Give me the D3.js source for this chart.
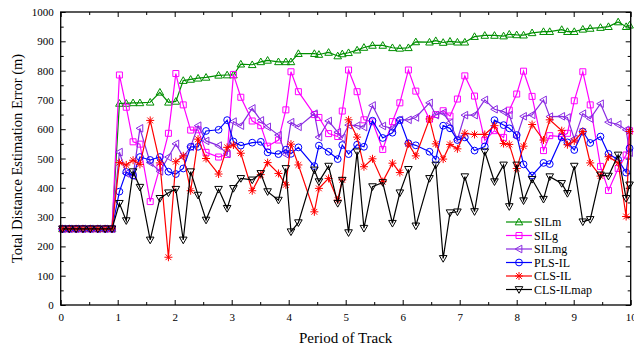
<!DOCTYPE html>
<html>
<head>
<meta charset="utf-8">
<script src="https://cdn.jsdelivr.net/npm/d3@7"></script>
<style>
  html, body { margin: 0; padding: 0; background: #fff; }
  svg { display: block; }
  svg text { font-family: "Liberation Serif", "Times New Roman", serif; fill: #000; }
</style>
</head>
<body>
<svg id="chart" width="634" height="348"></svg>
<script>
// Track period at which each estimate was taken
const period = [0.03,0.15,0.27,0.39,0.52,0.65,0.78,0.9,
  1.03,1.15,1.27,1.39,1.57,1.74,1.89,2.02,2.15,2.28,2.41,2.55,2.77,2.92,3.03,3.16,3.36,3.51,3.63,3.82,3.95,4.04,4.17,4.45,4.53,4.70,4.86,4.94,
  5.05,5.20,5.32,5.47,5.65,5.82,5.95,6.10,6.23,6.47,6.58,6.71,6.83,6.96,7.09,7.26,7.44,7.61,7.77,7.87,8.00,8.12,8.27,8.47,8.58,8.79,8.89,
  9.01,9.16,9.29,9.47,9.61,9.78,9.92,9.98];

const flat = [260,260,260,260,260,260,260,260];

const silm = flat.concat([688,688,690,690,692,726,692,695,766,770,774,777,784,785,785,822,820,830,835,830,830,830,858,858,855,862,850,857,
  861,870,879,886,886,878,876,878,898,897,902,896,900,897,897,916,920,920,918,924,922,921,929,933,933,940,933,
  933,941,944,947,950,966,950,955]);

const silg = flat.concat([785,675,557,549,353,470,586,790,683,597,598,521,505,514,787,709,628,612,542,563,666,796,728,650,640,585,575,662,
  802,728,632,625,531,626,690,802,730,634,650,663,645,703,782,713,562,595,572,665,720,798,712,527,578,575,586,
  697,796,683,473,391,466,512,595]);

const silmg = flat.concat([522,449,440,603,486,456,505,550,505,540,612,560,544,516,626,612,671,630,608,580,514,624,608,653,573,628,590,570,
  614,612,607,681,611,603,632,632,640,690,648,656,622,565,648,648,700,668,660,648,573,644,649,700,643,644,640,
  567,653,636,687,624,616,598,520]);

const plsil = flat.concat([387,454,442,505,495,505,455,447,466,540,540,594,598,631,558,544,554,557,521,515,530,516,538,474,544,523,498,546,
  515,547,540,629,570,588,631,552,545,523,496,612,603,563,572,527,541,631,614,603,580,480,442,485,481,572,555,
  529,592,553,575,516,496,452,535]);

const clsil = flat.concat([486,478,494,480,630,485,163,489,509,390,566,500,447,538,546,518,390,445,486,449,410,549,478,318,398,432,358,427,
  632,573,472,499,421,484,452,550,509,635,550,498,548,533,586,582,582,612,551,548,466,542,616,563,632,595,547,
  560,592,485,440,506,485,302,592]);

const clsilmap = flat.concat([347,288,455,402,222,364,383,395,222,455,375,290,395,330,398,432,427,449,387,358,466,250,281,461,421,474,347,426,
  247,523,262,404,418,279,383,463,270,432,478,159,315,318,438,319,523,421,478,336,478,356,429,361,438,415,381,
  474,284,292,444,440,512,364,410]);

const seriesNames = ["SILm", "SILg", "SILmg", "PLS-IL", "CLS-IL", "CLS-ILmap"];
const seriesColors = ["#008f00", "#ff00ff", "#8a2be2", "#0000ff", "#ff0000", "#000000"];
const seriesMarkers = ["triUp", "square", "triLeft", "circle", "star", "triDown"];
const seriesValues = [silm, silg, silmg, plsil, clsil, clsilmap];

const xTicks = d3.range(0, 11, 1);
const yTicks = d3.range(0, 1001, 100);

const FONT = '"Liberation Serif", "Times New Roman", serif';
const svg = d3.select("#chart");
const W = 634, H = 348;
const m = { left: 60.7, right: 3.3, top: 12, bottom: 43 };

const x = d3.scaleLinear().domain([0, 10]).range([m.left, W - m.right]);
const y = d3.scaleLinear().domain([0, 1000]).range([H - m.bottom, m.top]);

// Marker shapes, centred on 0,0
function markerPath(type) {
  const s = 3.8;
  switch (type) {
    case "triUp":   return `M0,${-s} L${s},${s*0.75} L${-s},${s*0.75} Z`;
    case "triDown": return `M0,${s} L${s},${-s*0.75} L${-s},${-s*0.75} Z`;
    case "triLeft": return `M${-s},0 L${s*0.75},${-s} L${s*0.75},${s} Z`;
    case "square":  return `M-3,-3 H3 V3 H-3 Z`;
    case "circle":  return d3.arc()({ innerRadius: 0, outerRadius: 3.4, startAngle: 0, endAngle: 2 * Math.PI });
    case "star": {
      const r = 4, d = r * 0.72;
      return `M0,${-r} V${r} M${-r},0 H${r} M${-d},${-d} L${d},${d} M${-d},${d} L${d},${-d}`;
    }
  }
}

// Axes: inward ticks on all four sides
const gAxes = svg.append("g");
function styleAxis(g) {
  g.attr("font-family", FONT).attr("font-size", 11);
  g.select(".domain").remove();
  g.selectAll("line").attr("stroke", "#000").attr("stroke-width", 1);
  g.selectAll("text").attr("fill", "#000");
}
const yMinor = d3.range(50, 1000, 100);
const xMinor = d3.range(0.5, 10, 1);
const fmt = d3.format("d");

gAxes.append("g").attr("transform", `translate(${m.left},0)`)
  .call(d3.axisLeft(y).tickValues(yTicks).tickSize(-5).tickPadding(7).tickFormat(fmt)).call(styleAxis);
gAxes.append("g").attr("transform", `translate(${m.left},0)`)
  .call(d3.axisLeft(y).tickValues(yMinor).tickSize(-3).tickFormat("")).call(styleAxis);
gAxes.append("g").attr("transform", `translate(${W - m.right},0)`)
  .call(d3.axisRight(y).tickValues(yTicks).tickSize(-5).tickFormat("")).call(styleAxis);
gAxes.append("g").attr("transform", `translate(${W - m.right},0)`)
  .call(d3.axisRight(y).tickValues(yMinor).tickSize(-3).tickFormat("")).call(styleAxis);
gAxes.append("g").attr("transform", `translate(0,${H - m.bottom})`)
  .call(d3.axisBottom(x).tickValues(xTicks).tickSize(-5).tickPadding(8).tickFormat(fmt)).call(styleAxis);
gAxes.append("g").attr("transform", `translate(0,${H - m.bottom})`)
  .call(d3.axisBottom(x).tickValues(xMinor).tickSize(-3).tickFormat("")).call(styleAxis);
gAxes.append("g").attr("transform", `translate(0,${m.top})`)
  .call(d3.axisTop(x).tickValues(xTicks).tickSize(-5).tickFormat("")).call(styleAxis);
gAxes.append("g").attr("transform", `translate(0,${m.top})`)
  .call(d3.axisTop(x).tickValues(xMinor).tickSize(-3).tickFormat("")).call(styleAxis);

// Series lines and markers
const line = d3.line().x((d, i) => x(period[i])).y(d => y(d));
const gSeries = svg.append("g");
seriesValues.forEach((vals, k) => {
  const g = gSeries.append("g");
  g.append("path").datum(vals)
    .attr("d", line)
    .attr("fill", "none")
    .attr("stroke", seriesColors[k])
    .attr("stroke-width", 1.2);
  g.selectAll("path.mk").data(vals).join("path")
    .attr("class", "mk")
    .attr("d", markerPath(seriesMarkers[k]))
    .attr("transform", (d, i) => `translate(${x(period[i])},${y(d)})`)
    .attr("fill", "none")
    .attr("stroke", seriesColors[k])
    .attr("stroke-width", 1);
});

// Plot frame
svg.append("rect")
  .attr("x", m.left).attr("y", m.top)
  .attr("width", W - m.left - m.right).attr("height", H - m.top - m.bottom)
  .attr("fill", "none").attr("stroke", "#000").attr("stroke-width", 1.3);

// Axis titles
svg.append("text")
  .attr("x", (m.left + W - m.right) / 2).attr("y", 343)
  .attr("text-anchor", "middle").attr("font-family", FONT).attr("font-size", 15)
  .text("Period of Track");
svg.append("text")
  .attr("transform", `translate(22,${(m.top + H - m.bottom) / 2}) rotate(-90)`)
  .attr("text-anchor", "middle").attr("font-family", FONT).attr("font-size", 14.5)
  .text("Total Distance Estimation Error (m)");

// Legend
const lg = svg.append("g").attr("transform", "translate(506,222)");
seriesNames.forEach((name, k) => {
  const row = lg.append("g").attr("transform", `translate(0,${k * 13.5})`);
  row.append("line").attr("x1", 0).attr("x2", 26).attr("y1", 0).attr("y2", 0)
    .attr("stroke", seriesColors[k]).attr("stroke-width", 1.2);
  row.append("path").attr("d", markerPath(seriesMarkers[k]))
    .attr("transform", "translate(13,0)")
    .attr("fill", "none").attr("stroke", seriesColors[k]).attr("stroke-width", 1);
  row.append("text").attr("x", 28).attr("y", 4)
    .attr("font-family", FONT).attr("font-size", 12).text(name);
});
</script>
</body>
</html>
